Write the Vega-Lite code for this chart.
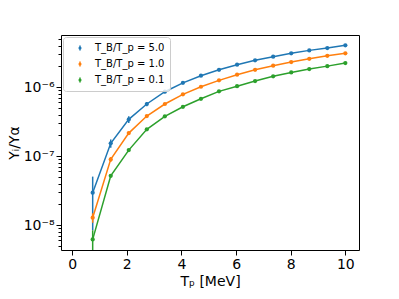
{
  "$schema": "https://vega.github.io/schema/vega-lite/v6.json",
  "width": 298,
  "height": 215,
  "autosize": {"type": "none"},
  "padding": {"left": 61, "top": 35, "right": 40, "bottom": 49},
  "config": {
    "font": "DejaVu Sans",
    "view": {"stroke": "#000000", "strokeWidth": 1},
    "axis": {
      "domain": false,
      "grid": false,
      "tickColor": "#000000",
      "tickWidth": 1,
      "labelColor": "#000000",
      "labelFont": "DejaVu Sans",
      "labelFontSize": 14,
      "titleFont": "DejaVu Sans",
      "titleFontSize": 14,
      "titleFontWeight": "normal",
      "titleColor": "#000000"
    },
    "legend": {
      "orient": "top-left",
      "offset": 2,
      "padding": 5,
      "strokeColor": "#cccccc",
      "fillColor": "rgba(255,255,255,0.8)",
      "cornerRadius": 3,
      "labelFont": "DejaVu Sans",
      "labelFontSize": 10,
      "labelColor": "#000000",
      "labelOffset": 9,
      "symbolOffset": 6,
      "rowPadding": 4,
      "symbolSize": 100,
      "symbolStrokeWidth": 1.5,
      "symbolOpacity": 1
    }
  },
  "data": {
    "values": [
      {"s": "T_B/T_p = 5.0", "x": 0.75, "y": 2.94e-8, "lo": 0.84e-8, "hi": 5.04e-8},
      {"s": "T_B/T_p = 5.0", "x": 1.411, "y": 1.53e-7, "lo": 1.32e-7, "hi": 1.74e-7},
      {"s": "T_B/T_p = 5.0", "x": 2.071, "y": 3.40e-7, "lo": 3.02e-7, "hi": 3.78e-7},
      {"s": "T_B/T_p = 5.0", "x": 2.732, "y": 5.68e-7, "lo": 5.28e-7, "hi": 6.08e-7},
      {"s": "T_B/T_p = 5.0", "x": 3.393, "y": 8.55e-7, "lo": 8.15e-7, "hi": 8.95e-7},
      {"s": "T_B/T_p = 5.0", "x": 4.054, "y": 1.15e-6, "lo": 1.105e-6, "hi": 1.195e-6},
      {"s": "T_B/T_p = 5.0", "x": 4.714, "y": 1.46e-6, "lo": 1.41e-6, "hi": 1.51e-6},
      {"s": "T_B/T_p = 5.0", "x": 5.375, "y": 1.78e-6, "lo": 1.73e-6, "hi": 1.83e-6},
      {"s": "T_B/T_p = 5.0", "x": 6.036, "y": 2.11e-6, "lo": 2.055e-6, "hi": 2.165e-6},
      {"s": "T_B/T_p = 5.0", "x": 6.696, "y": 2.44e-6, "lo": 2.38e-6, "hi": 2.50e-6},
      {"s": "T_B/T_p = 5.0", "x": 7.357, "y": 2.75e-6, "lo": 2.69e-6, "hi": 2.81e-6},
      {"s": "T_B/T_p = 5.0", "x": 8.018, "y": 3.08e-6, "lo": 3.015e-6, "hi": 3.145e-6},
      {"s": "T_B/T_p = 5.0", "x": 8.679, "y": 3.40e-6, "lo": 3.33e-6, "hi": 3.47e-6},
      {"s": "T_B/T_p = 5.0", "x": 9.339, "y": 3.67e-6, "lo": 3.60e-6, "hi": 3.74e-6},
      {"s": "T_B/T_p = 5.0", "x": 10.0, "y": 4.02e-6, "lo": 3.945e-6, "hi": 4.095e-6},
      {"s": "T_B/T_p = 1.0", "x": 0.75, "y": 1.28e-8, "lo": 1.08e-8, "hi": 1.48e-8},
      {"s": "T_B/T_p = 1.0", "x": 1.411, "y": 8.95e-8, "lo": 8.25e-8, "hi": 9.65e-8},
      {"s": "T_B/T_p = 1.0", "x": 2.071, "y": 2.15e-7, "lo": 2.05e-7, "hi": 2.25e-7},
      {"s": "T_B/T_p = 1.0", "x": 2.732, "y": 3.80e-7, "lo": 3.68e-7, "hi": 3.92e-7},
      {"s": "T_B/T_p = 1.0", "x": 3.393, "y": 5.68e-7, "lo": 5.53e-7, "hi": 5.83e-7},
      {"s": "T_B/T_p = 1.0", "x": 4.054, "y": 7.84e-7, "lo": 7.66e-7, "hi": 8.02e-7},
      {"s": "T_B/T_p = 1.0", "x": 4.714, "y": 1.01e-6, "lo": 0.99e-6, "hi": 1.03e-6},
      {"s": "T_B/T_p = 1.0", "x": 5.375, "y": 1.25e-6, "lo": 1.227e-6, "hi": 1.273e-6},
      {"s": "T_B/T_p = 1.0", "x": 6.036, "y": 1.51e-6, "lo": 1.484e-6, "hi": 1.536e-6},
      {"s": "T_B/T_p = 1.0", "x": 6.696, "y": 1.78e-6, "lo": 1.751e-6, "hi": 1.809e-6},
      {"s": "T_B/T_p = 1.0", "x": 7.357, "y": 2.04e-6, "lo": 2.008e-6, "hi": 2.072e-6},
      {"s": "T_B/T_p = 1.0", "x": 8.018, "y": 2.30e-6, "lo": 2.265e-6, "hi": 2.335e-6},
      {"s": "T_B/T_p = 1.0", "x": 8.679, "y": 2.57e-6, "lo": 2.532e-6, "hi": 2.608e-6},
      {"s": "T_B/T_p = 1.0", "x": 9.339, "y": 2.84e-6, "lo": 2.80e-6, "hi": 2.88e-6},
      {"s": "T_B/T_p = 1.0", "x": 10.0, "y": 3.08e-6, "lo": 3.037e-6, "hi": 3.123e-6},
      {"s": "T_B/T_p = 0.1", "x": 0.75, "y": 6.2e-9, "lo": 4.0e-9, "hi": 8.4e-9},
      {"s": "T_B/T_p = 0.1", "x": 1.411, "y": 5.18e-8, "lo": 4.88e-8, "hi": 5.48e-8},
      {"s": "T_B/T_p = 0.1", "x": 2.071, "y": 1.22e-7, "lo": 1.18e-7, "hi": 1.26e-7},
      {"s": "T_B/T_p = 0.1", "x": 2.732, "y": 2.44e-7, "lo": 2.38e-7, "hi": 2.50e-7},
      {"s": "T_B/T_p = 0.1", "x": 3.393, "y": 3.76e-7, "lo": 3.69e-7, "hi": 3.83e-7},
      {"s": "T_B/T_p = 0.1", "x": 4.054, "y": 5.18e-7, "lo": 5.10e-7, "hi": 5.26e-7},
      {"s": "T_B/T_p = 0.1", "x": 4.714, "y": 6.76e-7, "lo": 6.67e-7, "hi": 6.85e-7},
      {"s": "T_B/T_p = 0.1", "x": 5.375, "y": 8.66e-7, "lo": 8.56e-7, "hi": 8.76e-7},
      {"s": "T_B/T_p = 0.1", "x": 6.036, "y": 1.03e-6, "lo": 1.018e-6, "hi": 1.042e-6},
      {"s": "T_B/T_p = 0.1", "x": 6.696, "y": 1.22e-6, "lo": 1.206e-6, "hi": 1.234e-6},
      {"s": "T_B/T_p = 0.1", "x": 7.357, "y": 1.43e-6, "lo": 1.414e-6, "hi": 1.446e-6},
      {"s": "T_B/T_p = 0.1", "x": 8.018, "y": 1.63e-6, "lo": 1.612e-6, "hi": 1.648e-6},
      {"s": "T_B/T_p = 0.1", "x": 8.679, "y": 1.82e-6, "lo": 1.80e-6, "hi": 1.84e-6},
      {"s": "T_B/T_p = 0.1", "x": 9.339, "y": 2.01e-6, "lo": 1.988e-6, "hi": 2.032e-6},
      {"s": "T_B/T_p = 0.1", "x": 10.0, "y": 2.23e-6, "lo": 2.206e-6, "hi": 2.254e-6}
    ]
  },
  "encoding": {
    "x": {
      "field": "x",
      "type": "quantitative",
      "scale": {"domain": [-0.41, 10.5], "nice": false, "zero": false},
      "axis": {
        "title": "Tₚ [MeV]",
        "values": [0, 2, 4, 6, 8, 10],
        "tickSize": 5,
        "labelPadding": 2,
        "titlePadding": 3
      }
    }
  },
  "layer": [
    {
      "mark": {"type": "rule", "strokeWidth": 1.5, "clip": true},
      "encoding": {
        "y": {"field": "lo", "type": "quantitative"},
        "y2": {"field": "hi"},
        "stroke": {
          "field": "s",
          "type": "nominal",
          "scale": {
            "domain": ["T_B/T_p = 5.0", "T_B/T_p = 1.0", "T_B/T_p = 0.1"],
            "range": ["#1f77b4", "#ff7f0e", "#2ca02c"]
          },
          "legend": {
            "title": null,
            "symbolType": "M0,-0.5L0,0.5M-0.16,0A0.16,0.16 0 1,1 0.16,0A0.16,0.16 0 1,1 -0.16,0Z"
          }
        }
      }
    },
    {
      "mark": {"type": "line", "strokeWidth": 1.5, "clip": true},
      "encoding": {
        "y": {"field": "y", "type": "quantitative"},
        "stroke": {
          "field": "s",
          "type": "nominal",
          "scale": {
            "domain": ["T_B/T_p = 5.0", "T_B/T_p = 1.0", "T_B/T_p = 0.1"],
            "range": ["#1f77b4", "#ff7f0e", "#2ca02c"]
          },
          "legend": {
            "title": null,
            "symbolType": "M0,-0.5L0,0.5M-0.16,0A0.16,0.16 0 1,1 0.16,0A0.16,0.16 0 1,1 -0.16,0Z"
          }
        }
      }
    },
    {
      "mark": {"type": "point", "filled": true, "opacity": 1, "size": 18, "clip": true},
      "encoding": {
        "y": {
          "field": "y",
          "type": "quantitative",
          "scale": {"type": "log", "domain": [4.35e-9, 5.68e-6], "nice": false},
          "axis": {
            "title": "Yᵢ/Yα",
            "values": [4e-9, 5e-9, 6e-9, 7e-9, 8e-9, 9e-9, 1e-8, 2e-8, 3e-8, 4e-8, 5e-8, 6e-8, 7e-8, 8e-8, 9e-8, 1e-7, 2e-7, 3e-7, 4e-7, 5e-7, 6e-7, 7e-7, 8e-7, 9e-7, 1e-6, 2e-6, 3e-6, 4e-6, 5e-6],
            "labelExpr": "abs(log(datum.value)/LN10 - round(log(datum.value)/LN10)) < 0.001 ? '10' + (round(log(datum.value)/LN10) == -6 ? '⁻⁶' : round(log(datum.value)/LN10) == -7 ? '⁻⁷' : '⁻⁸') : ''",
            "labelOverlap": false,
            "labelFlush": false,
            "tickSize": {"condition": {"test": "abs(log(datum.value)/LN10 - round(log(datum.value)/LN10)) < 0.001", "value": 5}, "value": 3},
            "labelPadding": 2,
            "titlePadding": 2
          }
        },
        "fill": {
          "field": "s",
          "type": "nominal",
          "scale": {
            "domain": ["T_B/T_p = 5.0", "T_B/T_p = 1.0", "T_B/T_p = 0.1"],
            "range": ["#1f77b4", "#ff7f0e", "#2ca02c"]
          },
          "legend": {
            "title": null,
            "symbolType": "M0,-0.5L0,0.5M-0.16,0A0.16,0.16 0 1,1 0.16,0A0.16,0.16 0 1,1 -0.16,0Z"
          }
        }
      }
    }
  ]
}
